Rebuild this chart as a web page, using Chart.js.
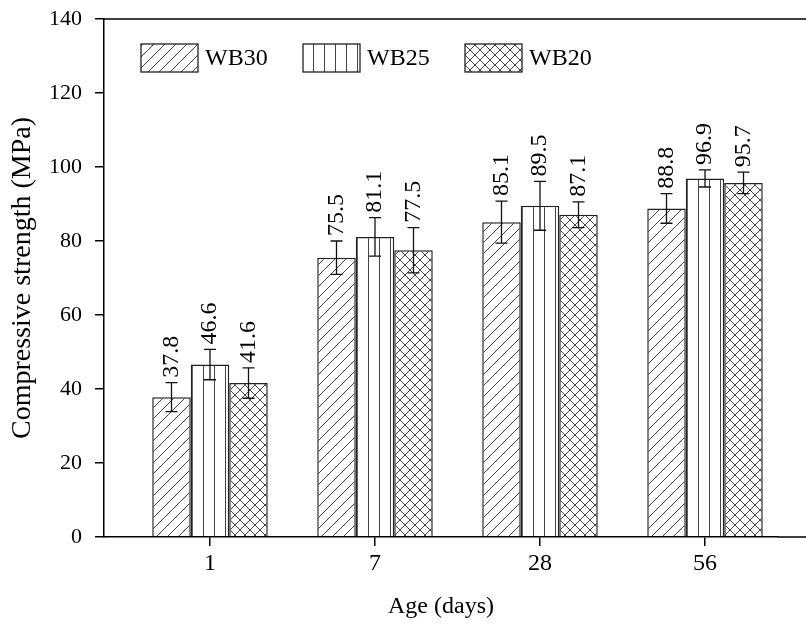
<!DOCTYPE html>
<html>
<head>
<meta charset="utf-8">
<script src="https://cdn.jsdelivr.net/npm/chart.js@4.4.0/dist/chart.umd.min.js"></script>
<style>
  html, body { margin: 0; padding: 0; background: #fff; overflow: hidden; }
</style>
</head>
<body>
<canvas id="myChart" width="806" height="625"></canvas>
<script>
  var ageLabels = ["1", "7", "28", "56"];
  var seriesNames = ["WB30", "WB25", "WB20"];
  var wb30 = [37.8, 75.5, 85.1, 88.8];
  var wb25 = [46.6, 81.1, 89.5, 96.9];
  var wb20 = [41.6, 77.5, 87.1, 95.7];
  var wb30Err = [3.9, 4.5, 5.7, 4.0];
  var wb25Err = [4.1, 5.2, 6.6, 2.3];
  var wb20Err = [4.1, 6.1, 3.5, 2.9];
  var yTicks = [0, 20, 40, 60, 80, 100, 120, 140];

  var serif = "Liberation Serif, Times New Roman, Times, serif";
  Chart.defaults.font.family = serif;
  var canvas = document.getElementById("myChart");
  var ctx = canvas.getContext('2d');

  // hatch fills like the original figure
  var makePattern = function(kind) {
    var s = kind === 'cross' ? 10 : 11;
    var c = document.createElement('canvas');
    c.width = s; c.height = s;
    var g = c.getContext('2d');
    g.fillStyle = '#fff';
    g.fillRect(0, 0, s, s);
    g.strokeStyle = '#444';
    g.lineWidth = 1;
    g.beginPath();
    if (kind === 'vert') {
      g.moveTo(5.5, 0); g.lineTo(5.5, s);
    }
    if (kind === 'diag' || kind === 'cross') {
      g.moveTo(-1, s + 1); g.lineTo(s + 1, -1);
      g.moveTo(-1, 1); g.lineTo(1, -1);
      g.moveTo(s - 1, s + 1); g.lineTo(s + 1, s - 1);
    }
    if (kind === 'cross') {
      g.moveTo(-1, -1); g.lineTo(s + 1, s + 1);
      g.moveTo(s - 1, -1); g.lineTo(s + 1, 1);
      g.moveTo(-1, s - 1); g.lineTo(1, s + 1);
    }
    g.stroke();
    return ctx.createPattern(c, 'repeat');
  };

  var fills = [makePattern('diag'), makePattern('vert'), makePattern('cross')];
  var allValues = [wb30, wb25, wb20];
  var allErrors = [wb30Err, wb25Err, wb20Err];

  var datasets = seriesNames.map(function(name, k) {
    return {
      label: name,
      data: allValues[k].map(function(v, i) { return { x: i, y: v }; }),
      errors: allErrors[k],
      backgroundColor: fills[k],
      borderColor: '#222',
      borderWidth: 1.5,
      borderSkipped: 'start',
      categoryPercentage: 0.7,
      barPercentage: 1.0
    };
  });

  var extras = {
    id: 'extras',
    afterDatasetsDraw: function(chart) {
      var c = chart.ctx;
      var area = chart.chartArea;
      var yScale = chart.scales.y;
      c.save();

      // top frame line and bottom axis running to the edge
      c.strokeStyle = '#000';
      c.lineWidth = 1.5;
      c.beginPath();
      c.moveTo(area.left - 0.75, area.top);
      c.lineTo(chart.width, area.top);
      c.moveTo(area.right, area.bottom);
      c.lineTo(chart.width, area.bottom);
      c.stroke();

      // error bars + value labels
      chart.data.datasets.forEach(function(ds, k) {
        var meta = chart.getDatasetMeta(k);
        meta.data.forEach(function(bar, i) {
          var v = ds.data[i].y;
          var e = ds.errors[i];
          var yTop = yScale.getPixelForValue(v + e);
          var yBot = yScale.getPixelForValue(v - e);
          c.strokeStyle = '#111';
          c.lineWidth = 1.3;
          c.beginPath();
          c.moveTo(bar.x, yTop); c.lineTo(bar.x, yBot);
          c.moveTo(bar.x - 6, yTop); c.lineTo(bar.x + 6, yTop);
          c.moveTo(bar.x - 6, yBot); c.lineTo(bar.x + 6, yBot);
          c.stroke();

          c.save();
          c.translate(bar.x, yTop - 5);
          c.rotate(-Math.PI / 2);
          c.fillStyle = '#000';
          c.font = "24px " + serif;
          c.textAlign = 'left';
          c.textBaseline = 'middle';
          c.fillText(v.toFixed(1), 0, 0);
          c.restore();
        });
      });

      // legend inside the plot
      chart.data.datasets.forEach(function(ds, k) {
        var bx = area.left + 37 + k * 162;
        var by = area.top + 25;
        c.fillStyle = ds.backgroundColor;
        c.fillRect(bx, by, 57, 28);
        c.strokeStyle = '#222';
        c.lineWidth = 1.3;
        c.strokeRect(bx, by, 57, 28);
        c.fillStyle = '#000';
        c.font = "24px " + serif;
        c.textAlign = 'left';
        c.textBaseline = 'middle';
        c.fillText(ds.label, bx + 64, by + 15);
      });

      c.restore();
    }
  };

  var axisGrid = { drawOnChartArea: false, drawTicks: true, tickLength: 9, color: '#000', lineWidth: 1.5, offset: false };
  var axisBorder = { color: '#000', width: 1.5, z: 1 };

  var myChart = new Chart(ctx, {
    type: 'bar',
    data: { datasets: datasets },
    options: {
      responsive: false,
      animation: false,
      layout: { padding: { top: 19, right: 28, left: 0, bottom: 0 } },
      plugins: {
        legend: { display: false },
        tooltip: { enabled: false }
      },
      scales: {
        x: {
          type: 'linear',
          offset: false,
          min: -0.6424,
          max: 3.4424,
          afterBuildTicks: function(axis) {
            axis.ticks = ageLabels.map(function(l, i) { return { value: i }; });
          },
          afterFit: function(s) {
            s.height = 88;
            s.paddingLeft = 0;
            s.paddingRight = 0;
          },
          ticks: {
            callback: function(v) { return ageLabels[v]; },
            font: { family: serif, size: 24 },
            color: '#000',
            padding: 3,
            autoSkip: false,
            maxRotation: 0
          },
          grid: axisGrid,
          border: axisBorder,
          title: {
            display: true,
            text: 'Age (days)',
            font: { family: serif, size: 24 },
            color: '#000',
            padding: { top: 0, bottom: 4 }
          }
        },
        y: {
          min: 0,
          max: 140,
          afterBuildTicks: function(axis) {
            axis.ticks = yTicks.map(function(v) { return { value: v }; });
          },
          afterFit: function(s) {
            s.width = 104;
            s.paddingTop = 0;
            s.paddingBottom = 0;
          },
          ticks: {
            font: { family: serif, size: 22 },
            color: '#000',
            padding: 13
          },
          grid: axisGrid,
          border: axisBorder,
          title: {
            display: true,
            text: 'Compressive strength (MPa)',
            font: { family: serif, size: 28 },
            color: '#000',
            padding: { top: 6, bottom: 0 }
          }
        }
      }
    },
    plugins: [extras]
  });
</script>
</body>
</html>
